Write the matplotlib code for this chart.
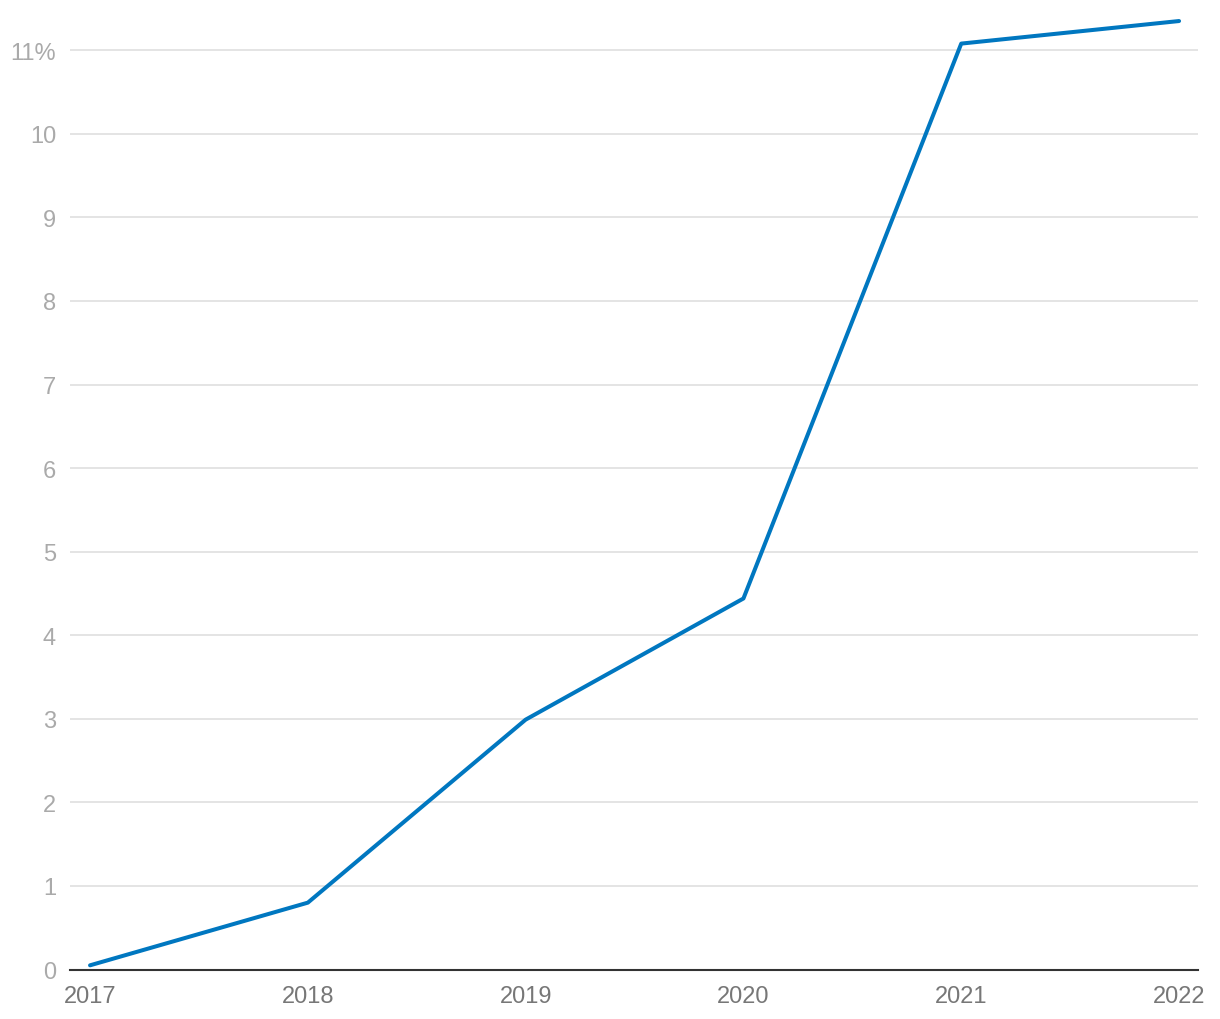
import matplotlib
matplotlib.use("Agg")
import matplotlib.pyplot as plt

years = [2017, 2018, 2019, 2020, 2021, 2022]
values = [0.05, 0.80, 2.99, 4.44, 11.08, 11.35]
y_ticks = [0, 1, 2, 3, 4, 5, 6, 7, 8, 9, 10, 11]
y_tick_labels = ["0", "1", "2", "3", "4", "5", "6", "7", "8", "9", "10", "11%"]
x_tick_labels = ["2017", "2018", "2019", "2020", "2021", "2022"]

plt.rcParams['font.family'] = ['Liberation Sans', 'DejaVu Sans']

W, H = 1220, 1020
fig = plt.figure(figsize=(W / 100, H / 100), dpi=100)
left, right = 70 / W, 1198 / W
bottom = 1 - 970.5 / H
top = 1 - 9.5 / H
ax = fig.add_axes([left, bottom, right - left, top - bottom])

ax.plot(years, values, color="#0077c0", lw=2.9, solid_capstyle="round", zorder=3)

ax.set_xlim(2016.908, 2022.087)
ax.set_ylim(0, 11.5)
ax.set_yticks(y_ticks)
ax.set_yticklabels(y_tick_labels)
ax.set_xticks(years)
ax.set_xticklabels(x_tick_labels)

ax.grid(axis="y", color="#e2e2e2", lw=1.3)
ax.grid(axis="x", visible=False)
ax.set_axisbelow(True)
for s in ["top", "right", "left"]:
    ax.spines[s].set_visible(False)
ax.spines["bottom"].set_color("#333333")
ax.spines["bottom"].set_linewidth(1.5)
ax.spines["bottom"].set_zorder(4)

ax.tick_params(axis="y", length=0, pad=10, labelsize=17, labelcolor="#aaaaaa")
ax.tick_params(axis="x", length=0, pad=11, labelsize=17, labelcolor="#777777")

fig.savefig("out.png", dpi=100, facecolor="white")
